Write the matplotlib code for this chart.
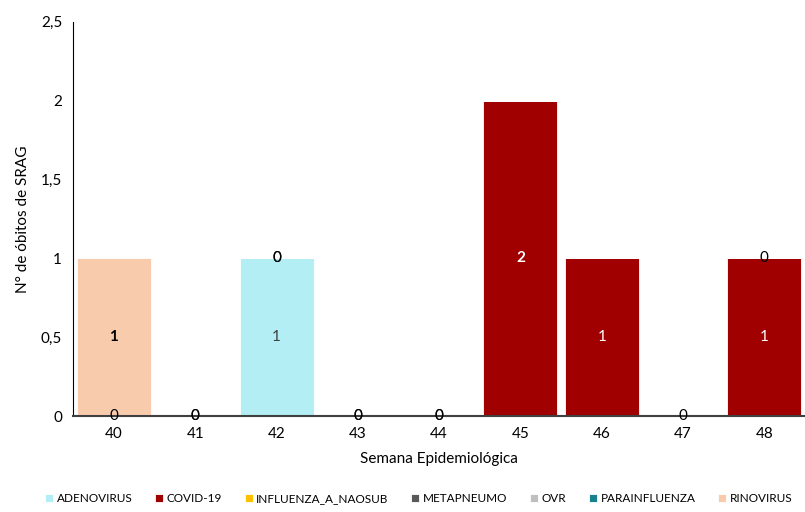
import numpy as np
import matplotlib.pyplot as plt

plt.rcParams['font.family'] = ['Lato', 'DejaVu Sans']

semanas = ['40', '41', '42', '43', '44', '45', '46', '47', '48']
nan = np.nan
series = ['ADENOVIRUS', 'COVID-19', 'INFLUENZA_A_NAOSUB', 'METAPNEUMO',
          'OVR', 'PARAINFLUENZA', 'RINOVIRUS']
adenovirus = [0, 0, 1, 0, 0, nan, nan, nan, nan]
covid = [nan, 0, 0, 0, 0, 2, 1, 0, 1]
influenza = [nan, nan, 0, nan, nan, nan, nan, nan, 0]
metapneumo = [nan] * 9
ovr = [nan] * 9
parainfluenza = [nan] * 9
rinovirus = [1, nan, nan, nan, nan, nan, nan, nan, nan]

valores = [adenovirus, covid, influenza, metapneumo, ovr, parainfluenza, rinovirus]
cores = ['#B4EEF5', '#A00000', '#FFC000', '#595959', '#BFBFBF', '#17818C', '#F8CBAD']
cor_rotulo = ['#404040', 'white', 'black', 'white', 'black', 'white', 'black']
peso_rotulo = ['normal', 'normal', 'normal', 'normal', 'normal', 'normal', 'bold']

fig = plt.figure(figsize=(8.05, 5.12), dpi=100)
ax = fig.add_axes([0.091, 0.1875, 0.909, 0.77])

x = np.arange(len(semanas))
base = np.zeros(len(semanas))
for nome, v, c, cl, pw in zip(series, valores, cores, cor_rotulo, peso_rotulo):
    v = np.array(v, dtype=float)
    h = np.nan_to_num(v)
    ax.bar(x, h, 0.91, bottom=base, color=c, edgecolor='white', linewidth=0.6, label=nome)
    for i in range(len(x)):
        if not np.isnan(v[i]):
            w = pw
            if nome == 'COVID-19' and v[i] == 2:
                w = 'bold'
            ax.text(x[i], base[i] + h[i] / 2, '%g' % v[i], ha='center', va='center',
                    fontsize=11, color=cl if h[i] > 0 else 'black', fontweight=w)
    base = base + h

ax.set_xlim(-0.5, len(semanas) - 0.5)
ax.set_ylim(0, 2.5)
ax.set_xticks(x)
ax.set_xticklabels(semanas)
yt = [0, 0.5, 1, 1.5, 2, 2.5]
ax.set_yticks(yt)
ax.set_yticklabels([('%g' % t).replace('.', ',') for t in yt])
ax.tick_params(length=0, labelsize=11, colors='black', pad=8)
for s in ['top', 'right']:
    ax.spines[s].set_visible(False)
ax.spines['left'].set_color('black')
ax.spines['bottom'].set_color('#404040')
ax.spines['bottom'].set_linewidth(1.5)

ax.set_xlabel('Semana Epidemiológica', fontsize=11, labelpad=8)
ax.set_ylabel('N° de óbitos de SRAG', fontsize=11, labelpad=8)

fig.legend(loc='lower center', bbox_to_anchor=(0.52, -0.005), ncol=7, frameon=False,
           fontsize=8.5, handlelength=0.7, handleheight=0.7, handletextpad=0.3,
           columnspacing=1.9)

fig.savefig('out.png', dpi=100)
